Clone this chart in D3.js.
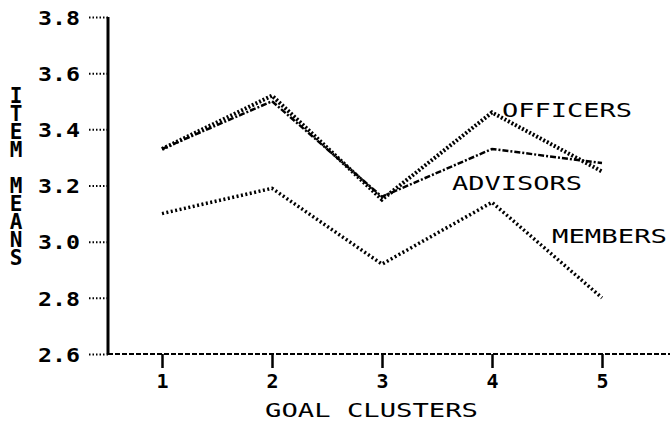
<!DOCTYPE html>
<html><head><meta charset="utf-8">
<script src="https://cdn.jsdelivr.net/npm/d3@7"></script>
<style>
html,body{margin:0;padding:0;background:#fff;}
svg{display:block;}
text{font-family:"DejaVu Sans Mono",monospace;font-weight:bold;fill:#000;}
</style></head>
<body>
<svg id="chart" width="670" height="428"></svg>
<script>
const clusters = [1, 2, 3, 4, 5];
const officers = [3.33, 3.52, 3.15, 3.46, 3.25];
const advisors = [3.33, 3.50, 3.16, 3.33, 3.28];
const members  = [3.10, 3.19, 2.92, 3.14, 2.80];
const yTicks = [2.6, 2.8, 3.0, 3.2, 3.4, 3.6, 3.8];
const yTitle = "ITEM MEANS";
const xTitle = "GOAL CLUSTERS";
const seriesNames = ["OFFICERS", "ADVISORS", "MEMBERS"];

const svg = d3.select("#chart");
const x = d3.scaleLinear().domain([1, 5]).range([162, 602]);
const y = d3.scaleLinear().domain([2.6, 3.8]).range([354, 17]);
const axisX = 108;

// x baseline (dashed)
svg.append("line").attr("x1", axisX).attr("x2", 670).attr("y1", y(2.6)).attr("y2", y(2.6))
  .attr("stroke", "#000").attr("stroke-width", 2).attr("stroke-dasharray", "5,2");

// y axis
const yAxis = d3.axisLeft(y).tickValues(yTicks).tickFormat(d3.format(".1f")).tickSize(20).tickPadding(8);
const gy = svg.append("g").attr("transform", `translate(${axisX},0)`).call(yAxis);
gy.select(".domain").remove();
gy.selectAll(".tick line").attr("stroke-width", 2).attr("stroke-dasharray", "1.5,2");
gy.selectAll(".tick text").style("font-size", "20px").attr("textLength", 42)
  .attr("lengthAdjust", "spacingAndGlyphs").attr("dy", "0.36em");
svg.append("line").attr("x1", axisX).attr("x2", axisX).attr("y1", y(3.8)).attr("y2", y(2.6))
  .attr("stroke", "#000").attr("stroke-width", 3);

// x axis ticks
const xAxis = d3.axisBottom(x).tickValues(clusters).tickFormat(d3.format("d")).tickSize(14).tickPadding(6);
const gx = svg.append("g").attr("transform", `translate(0,${y(2.6)})`).call(xAxis);
gx.select(".domain").remove();
gx.selectAll(".tick line").attr("stroke-width", 2.5);
gx.selectAll(".tick text").style("font-size", "20px");

// titles
svg.append("text").attr("x", 265).attr("y", 417).attr("textLength", 213)
  .attr("lengthAdjust", "spacingAndGlyphs")
  .style("font-size", "19px").style("font-weight", "normal").text(xTitle);
svg.append("text").attr("x", 16).attr("y", 84)
  .style("writing-mode", "vertical-rl").style("text-orientation", "upright")
  .style("font-size", "21px").attr("letter-spacing", "-6px").text(yTitle);

// lines
const line = d3.line().x((d, i) => x(clusters[i])).y(d => y(d));
svg.append("path").datum(advisors).attr("d", line).attr("fill", "none").attr("stroke", "#000")
  .attr("stroke-width", 2.5).attr("stroke-dasharray", "6,2,2,2").attr("stroke-linecap", "butt");
svg.append("path").datum(officers).attr("d", line).attr("fill", "none").attr("stroke", "#000")
  .attr("stroke-width", 4).attr("stroke-dasharray", "2,2");
svg.append("path").datum(members).attr("d", line).attr("fill", "none").attr("stroke", "#000")
  .attr("stroke-width", 3.5).attr("stroke-dasharray", "2,2.5");

// series labels
const labelPos = [[502, 117, 130], [452, 190, 130], [552, 243, 115]];
seriesNames.forEach((n, i) => {
  svg.append("text").attr("x", labelPos[i][0]).attr("y", labelPos[i][1])
    .attr("textLength", labelPos[i][2]).attr("lengthAdjust", "spacingAndGlyphs")
    .style("font-size", "20px").style("font-weight", "normal").text(n);
});
</script>
</body></html>
